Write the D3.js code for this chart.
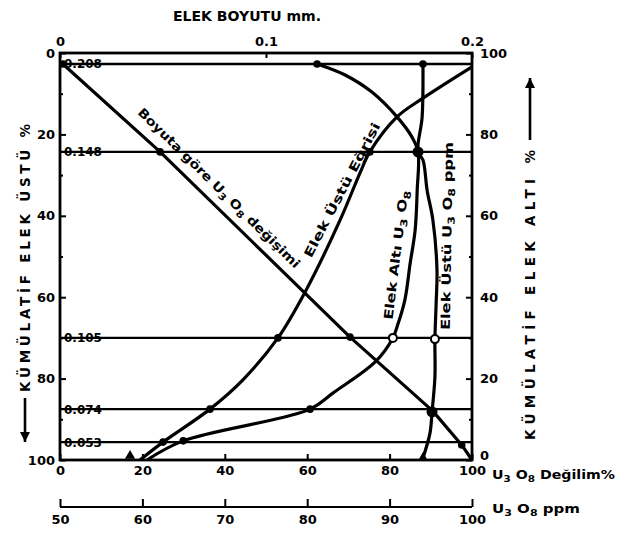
<!DOCTYPE html>
<html><head><meta charset="utf-8">
<script src="https://cdn.jsdelivr.net/npm/d3@7"></script>
<style>
body{margin:0;background:#fff;}
svg text{font-family:"DejaVu Sans","Liberation Sans",sans-serif;font-weight:bold;fill:#000;}
</style></head>
<body><svg id="c" width="619" height="536"></svg>
<script>
// ---------- data ----------
const sieveSizes  = ["0.208","0.148","0.105","0.074","0.053"];
const sieveLevels = [2.7, 24.3, 70.0, 87.5, 95.6];           // left axis %
const bottomTicks = [0,20,40,60,80,100];
const leftTicks   = [0,20,40,60,80,100];
const rightTicks  = [0,20,40,60,80,100];
const topTicks    = [0,0.1,0.2];
const ppmTicks    = [50,60,70,80,90,100];

// "Boyuta göre U3O8 değişimi"
const diagX = [0.7, 24.3, 70.4, 90.5, 97.5, 100];
const diagY = [2.7, 24.3, 69.8, 88.0, 96.3, 100];
// "Elek Üstü Eğrisi"
const ustuEgriX = [19.4, 25.0, 36.4, 44.4, 52.9, 59.5, 68.0, 72.8, 75.2, 81.8, 88.1, 100];
const ustuEgriY = [100, 95.6, 87.5, 80.3, 70.0, 58.7, 41.0, 29.5, 24.3, 15.7, 11.1, 3.4];
// "Elek Altı U3O8"
const altiX = [62.4, 69.2, 75.7, 81.8, 85.4, 86.9, 86.7, 86.2, 85.0, 83.7, 81.8, 80.8, 76.5, 66.3, 60.7, 29.9, 21.1];
const altiY = [2.7, 5.4, 9.6, 15.7, 20.6, 24.3, 33.7, 43.5, 51.6, 60.7, 67.3, 70.0, 75.9, 83.5, 87.5, 95.3, 100];
// "Elek Üstü U3O8 ppm"
const ustuPpmX = [88.1, 87.9, 86.9, 88.1, 89.1, 90.5, 91.5, 91.3, 91.0, 91.0, 90.3, 89.8, 88.1];
const ustuPpmY = [2.7, 15.7, 24.3, 26.3, 33.7, 41.0, 53.3, 61.4, 70.3, 79.6, 88.2, 93.4, 99.5];

// markers
const dotX    = [0.7, 24.3, 70.4, 90.5, 97.5, 25.0, 36.4, 52.9, 75.2, 62.4, 60.7, 29.9, 88.1];
const dotY    = [2.7, 24.3, 69.8, 88.0, 96.3, 95.6, 87.5, 70.0, 24.3, 2.7, 87.5, 95.3, 2.7];
const blobX   = [86.9, 90.3];
const blobY   = [24.3, 88.2];
const ringX   = [80.8, 91.0];
const ringY   = [70.0, 70.3];
const triX    = [17.0, 88.1];
const triY    = [99.0, 99.5];

// ---------- chart ----------
const svg = d3.select("#c");
const L=60, R=472, T=53, B=460;
const x    = d3.scaleLinear().domain([0,100]).range([L,R]);
const y    = d3.scaleLinear().domain([0,100]).range([T,B]);
const yR   = d3.scaleLinear().domain([0,100]).range([B,T]);
const xTop = d3.scaleLinear().domain([0,0.2]).range([L,R]);
const xPpm = d3.scaleLinear().domain([50,100]).range([L,R]);
const PPM_Y = 507;

const fs = 13;
function styleAxis(g){
  g.select(".domain").remove();
  g.selectAll(".tick line").attr("stroke","#000").attr("stroke-width",2);
  g.selectAll(".tick text").style("font-size",fs+"px");
}

// sieve lines
svg.append("g").selectAll("line").data(sieveLevels).join("line")
  .attr("x1",L).attr("x2",R).attr("y1",d=>y(d)).attr("y2",d=>y(d))
  .attr("stroke","#000").attr("stroke-width",2.3);
svg.append("g").selectAll("text").data(sieveSizes).join("text")
  .attr("x",L+4).attr("y",(d,i)=>y(sieveLevels[i])+4.5)
  .style("font-size","12px").text(d=>d);

// frame
svg.append("rect").attr("x",L).attr("y",T).attr("width",R-L).attr("height",B-T)
  .attr("fill","none").attr("stroke","#000").attr("stroke-width",2.8);

// axes
svg.append("g").attr("transform",`translate(${L},0)`)
  .call(d3.axisLeft(y).tickValues(leftTicks).tickSizeInner(-6).tickSizeOuter(0).tickPadding(5).tickFormat(d3.format("d")))
  .call(styleAxis);
svg.append("g").attr("transform",`translate(${L},0)`)
  .call(d3.axisLeft(y).tickValues([10,30,50,70,90]).tickSizeInner(-3).tickSizeOuter(0).tickFormat(""))
  .call(styleAxis);
const rAx = svg.append("g").attr("transform",`translate(${R},0)`)
  .call(d3.axisRight(yR).tickValues(rightTicks).tickSizeInner(-6).tickSizeOuter(0).tickPadding(8).tickFormat(d3.format("d")))
  .call(styleAxis);
rAx.selectAll(".tick text").filter(d=>d===0).attr("dy","-0.05em");
svg.append("g").attr("transform",`translate(${R},0)`)
  .call(d3.axisRight(yR).tickValues([10,30,50,70,90]).tickSizeInner(-3).tickSizeOuter(0).tickFormat(""))
  .call(styleAxis);
svg.append("g").attr("transform",`translate(0,${B})`)
  .call(d3.axisBottom(x).tickValues(bottomTicks).tickSizeInner(-6).tickSizeOuter(0).tickPadding(6).tickFormat(d3.format("d")))
  .call(styleAxis);
svg.append("g").attr("transform",`translate(0,${T})`)
  .call(d3.axisTop(xTop).tickValues(topTicks).tickSizeInner(-5).tickSizeOuter(0).tickPadding(7).tickFormat(d=>d===0?"0":d3.format(".1f")(d)))
  .call(styleAxis);

// ppm axis
svg.append("line").attr("x1",L).attr("x2",R).attr("y1",PPM_Y).attr("y2",PPM_Y)
  .attr("stroke","#000").attr("stroke-width",2.2);
svg.append("g").attr("transform",`translate(0,${PPM_Y})`)
  .call(d3.axisBottom(xPpm).tickValues(ppmTicks).tickSizeInner(-8).tickSizeOuter(0).tickPadding(8).tickFormat(d3.format("d")))
  .call(styleAxis);

// curves
const smooth = d3.line().x(d=>x(d[0])).y(d=>y(d[1])).curve(d3.curveCatmullRom.alpha(0.5));
const straight = d3.line().x(d=>x(d[0])).y(d=>y(d[1]));
function pairs(a,b){return a.map((v,i)=>[v,b[i]]);}
const cg = svg.append("g").attr("fill","none").attr("stroke","#000").attr("stroke-width",3.2).attr("stroke-linejoin","round");
cg.append("path").attr("d",straight(pairs(diagX,diagY)));
cg.append("path").attr("d",smooth(pairs(ustuEgriX,ustuEgriY)));
cg.append("path").attr("d",smooth(pairs(altiX,altiY)));
cg.append("path").attr("d",smooth(pairs(ustuPpmX,ustuPpmY)));

// markers
svg.append("g").selectAll("circle").data(pairs(dotX,dotY)).join("circle")
  .attr("cx",d=>x(d[0])).attr("cy",d=>y(d[1])).attr("r",3.8).attr("fill","#000");
svg.append("g").selectAll("circle").data(pairs(blobX,blobY)).join("circle")
  .attr("cx",d=>x(d[0])).attr("cy",d=>y(d[1])).attr("r",5.5).attr("fill","#000");
svg.append("g").selectAll("circle").data(pairs(ringX,ringY)).join("circle")
  .attr("cx",d=>x(d[0])).attr("cy",d=>y(d[1])).attr("r",4).attr("fill","#fff").attr("stroke","#000").attr("stroke-width",2);
svg.append("g").selectAll("path").data(pairs(triX,triY)).join("path")
  .attr("transform",d=>`translate(${x(d[0])},${y(d[1])})`)
  .attr("d",d3.symbol().type(d3.symbolTriangle).size(45)).attr("fill","#000");

// curve labels
function sub(t, parts){ // parts: [text, isSub]
  parts.forEach(p=>{
    const s=t.append("tspan").text(p[0]);
    if(p[1]) s.attr("baseline-shift","-25%").style("font-size","9.5px");
  });
}
function label(cx,cy,ang,len,parts,size){
  const t=svg.append("text").attr("transform",`translate(${cx},${cy}) rotate(${ang})`)
    .attr("text-anchor","middle").attr("dy","0.35em").style("font-size",(size||12.5)+"px")
    .attr("textLength",len).attr("lengthAdjust","spacingAndGlyphs");
  sub(t,parts);
}
label(219,188,44.6,222,[["Boyuta göre U",0],["3",1],[" O",0],["8",1],[" değişimi",0]]);
label(342,190,-62.4,150,[["Elek Üstü Eğrisi",0]]);
label(396,255,-83,130,[["Elek Altı U",0],["3",1],[" O",0],["8",1]]);
label(447,236,-89,188,[["Elek Üstü U",0],["3",1],[" O",0],["8",1],[" ppm",0]]);

// axis titles
svg.append("text").attr("x",247).attr("y",21).attr("text-anchor","middle")
  .attr("textLength",148).attr("lengthAdjust","spacingAndGlyphs")
  .style("font-size","13.5px").text("ELEK BOYUTU mm.");

function vtitle(cx, y0, y1, txt, arrowA, arrowB){
  const g=svg.append("g").attr("transform",`translate(${cx},0) rotate(-90)`);
  g.append("text").attr("x",-y0).attr("y",0).attr("dy","0.36em")
    .attr("textLength",y0-y1).attr("lengthAdjust","spacing")
    .style("font-size","13.5px").text(txt);
  g.append("line").attr("x1",-arrowA).attr("x2",-arrowB).attr("y1",0).attr("y2",0)
    .attr("stroke","#000").attr("stroke-width",2.6);
  const tip=-arrowB;
  const back = tip + (arrowB>arrowA? 10 : -10);
  g.append("path").attr("d",`M${tip},0 L${back},-5 L${back},5 Z`).attr("fill","#000");
}
vtitle(25, 392, 124, "KÜMÜLATİF ELEK ÜSTÜ %", 398, 442);
vtitle(530, 440, 150, "KÜMÜLATİF ELEK ALTI %", 140, 78);

// bottom-right unit labels
function unitLabel(x0,y0,parts,len){
  const t=svg.append("text").attr("x",x0).attr("y",y0).style("font-size","13px");
  if(len) t.attr("textLength",len).attr("lengthAdjust","spacingAndGlyphs");
  sub(t,parts);
}
unitLabel(492,479,[["U",0],["3",1],[" O",0],["8",1],[" Değilim%",0]],123);
unitLabel(492,513,[["U",0],["3",1],[" O",0],["8",1],[" ppm",0]],88);
</script></body></html>
